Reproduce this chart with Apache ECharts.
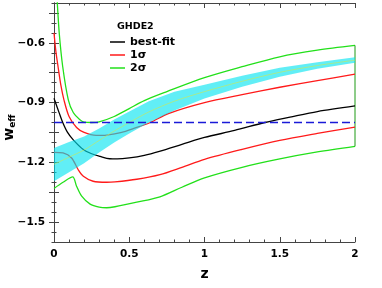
<!DOCTYPE html>
<html>
<head>
<meta charset="utf-8">
<script src="https://cdn.jsdelivr.net/npm/echarts@6/dist/echarts.min.js"></script>
<style>html,body{margin:0;padding:0;background:#fff;}#c{width:382px;height:288px;}</style>
</head>
<body>
<div id="c"></div>
<script>
// ---- data ----
var zG1 = [0, 0.022, 0.035, 0.058, 0.095, 0.128, 0.17, 0.2, 0.25, 0.3, 0.4, 0.5, 0.6, 0.75, 1.0, 1.25, 1.5, 1.75, 2.0];
var wG1 = [-0.1, -0.40, -0.553, -0.72, -0.886, -0.95, -0.985, -0.998, -1.0, -0.997, -0.97, -0.93, -0.89, -0.845, -0.775, -0.72, -0.67, -0.637, -0.613];

var zR1 = [0, 0.012, 0.027, 0.045, 0.066, 0.1, 0.15, 0.2, 0.28, 0.35, 0.45, 0.53, 0.64, 0.76, 1.0, 1.25, 1.5, 1.75, 2.0];
var wR1 = [-0.55, -0.64, -0.72, -0.81, -0.886, -0.97, -1.025, -1.05, -1.065, -1.063, -1.05, -1.03, -1.0, -0.955, -0.9, -0.86, -0.823, -0.79, -0.757];

var zBF = [0, 0.035, 0.058, 0.09, 0.128, 0.195, 0.25, 0.306, 0.37, 0.42, 0.5, 0.6, 0.7, 0.85, 1.0, 1.2, 1.4, 1.568, 1.75, 2.0];
var wBF = [-0.878, -0.953, -1.0, -1.05, -1.087, -1.136, -1.157, -1.17, -1.182, -1.183, -1.178, -1.165, -1.145, -1.11, -1.075, -1.04, -1.0, -0.973, -0.945, -0.917];

var zR2 = [0, 0.06, 0.117, 0.16, 0.195, 0.26, 0.35, 0.405, 0.55, 0.704, 0.85, 1.0, 1.25, 1.5, 1.75, 2.0];
var wR2 = [-1.15, -1.153, -1.178, -1.236, -1.27, -1.295, -1.30, -1.298, -1.285, -1.262, -1.225, -1.185, -1.135, -1.09, -1.055, -1.023];

var zG2 = [0, 0.06, 0.124, 0.15, 0.184, 0.24, 0.3, 0.35, 0.405, 0.55, 0.704, 0.85, 1.0, 1.25, 1.5, 1.75, 2.0];
var wG2 = [-1.331, -1.30, -1.273, -1.32, -1.37, -1.41, -1.425, -1.428, -1.423, -1.40, -1.373, -1.325, -1.278, -1.225, -1.183, -1.148, -1.12];

var zBand = [0, 0.1, 0.2, 0.3, 0.4, 0.5, 0.63, 0.8, 1.0, 1.25, 1.5, 1.75, 2.0];
var wBandUp = [-1.128, -1.098, -1.07, -1.03, -0.985, -0.945, -0.893, -0.845, -0.81, -0.765, -0.725, -0.697, -0.673];
var wBandLo = [-1.295, -1.25, -1.205, -1.15, -1.1, -1.055, -1.0, -0.94, -0.88, -0.82, -0.77, -0.73, -0.70];
var wBandMid = [-1.21, -1.174, -1.138, -1.09, -1.043, -1.0, -0.947, -0.893, -0.845, -0.793, -0.748, -0.714, -0.687];

var zRef = [0, 2];
var wRef = [-1.0, -1.0];

var xTickLabels = [0, 0.5, 1, 1.5, 2];
var yTickLabels = [-1.5, -1.2, -0.9, -0.6];
var yMajorTicks = [-1.5, -1.35, -1.2, -1.05, -0.9, -0.75, -0.6, -0.45];

var legendNames = ['best-fit', '1\u03c3', '2\u03c3'];
var legendTitle = 'GHDE2';

// ---- build ----
function pairs(z, w) { return z.map(function (v, i) { return [v, w[i]]; }); }
var FONT = 'DejaVu Sans';
var AX = '#444';
var GREEN = '#22e01a', RED = '#ff1a1a';

function lineSeries(name, z, w, color, width) {
  return {
    name: name, type: 'line', data: pairs(z, w), symbol: 'none', smooth: 0.3,
    lineStyle: { color: color, width: width }, itemStyle: { color: color },
    clip: true, silent: true, animation: false, z: 3
  };
}

var xCommon = { type: 'value', min: 0, max: 2, splitLine: { show: false } };
var yCommon = { type: 'value', min: -1.6, max: -0.4, splitLine: { show: false } };

var xAxes = [
  Object.assign({}, xCommon, {
    position: 'bottom', interval: 0.5,
    axisLine: { show: true, lineStyle: { color: AX, width: 1 } },
    axisTick: { show: true, inside: true, length: 5, lineStyle: { color: AX } },
    axisLabel: { show: true, margin: 7, color: '#000', fontFamily: FONT, fontWeight: 'bold', fontSize: 10.5,
      customValues: xTickLabels, formatter: function (v) { return String(+v.toFixed(2)); } },
    name: 'z', nameLocation: 'middle', nameGap: 25, nameMoveOverlap: false,
    nameTextStyle: { color: '#000', fontFamily: FONT, fontWeight: 'bold', fontSize: 14 }
  }),
  Object.assign({}, xCommon, {
    position: 'bottom', interval: 0.1,
    axisLine: { show: false }, axisLabel: { show: false },
    axisTick: { show: true, inside: true, length: 2.5, lineStyle: { color: AX } }
  }),
  Object.assign({}, xCommon, {
    position: 'top', interval: 0.5,
    axisLine: { show: true, lineStyle: { color: AX, width: 1 } }, axisLabel: { show: false },
    axisTick: { show: true, inside: true, length: 5, lineStyle: { color: AX } }
  }),
  Object.assign({}, xCommon, {
    position: 'top', interval: 0.1,
    axisLine: { show: false }, axisLabel: { show: false },
    axisTick: { show: true, inside: true, length: 2.5, lineStyle: { color: AX } }
  })
];

var yAxes = [
  Object.assign({}, yCommon, {
    position: 'left',
    axisLine: { show: true, lineStyle: { color: AX, width: 1 } },
    axisTick: { show: true, inside: true, length: 5, customValues: yMajorTicks, lineStyle: { color: AX } },
    axisLabel: { show: true, margin: 9, color: '#000', fontFamily: FONT, fontWeight: 'bold', fontSize: 10.5,
      customValues: yTickLabels, formatter: function (v) { return v.toFixed(1).replace('-', '\u2212'); } },
    name: '{w|w}{s|eff}', nameLocation: 'middle', nameGap: 37, nameRotate: 90, nameMoveOverlap: false,
    nameTextStyle: { color: '#000', padding: [0, 10, 0, 0], rich: {
      w: { fontFamily: FONT, fontWeight: 'bold', fontSize: 14, color: '#000', lineHeight: 16 },
      s: { fontFamily: FONT, fontWeight: 'bold', fontSize: 9, color: '#000', verticalAlign: 'bottom', lineHeight: 10, padding: [6, 0, 0, 0] }
    } }
  }),
  Object.assign({}, yCommon, {
    position: 'left', interval: 0.05,
    axisLine: { show: false }, axisLabel: { show: false },
    axisTick: { show: true, inside: true, length: 2.5, lineStyle: { color: AX } }
  }),
  Object.assign({}, yCommon, {
    position: 'right',
    axisLine: { show: true, lineStyle: { color: AX, width: 1 } }, axisLabel: { show: false },
    axisTick: { show: true, inside: true, length: 5, customValues: yMajorTicks, lineStyle: { color: AX } }
  }),
  Object.assign({}, yCommon, {
    position: 'right', interval: 0.05,
    axisLine: { show: false }, axisLabel: { show: false },
    axisTick: { show: true, inside: true, length: 2.5, lineStyle: { color: AX } }
  })
];

// band drawn as a polygon through the axis scales
function renderBand(params, api) {
  if (params.dataIndex !== 0) return null;
  var pts = [];
  for (var i = 0; i < zBand.length; i++) pts.push(api.coord([zBand[i], wBandUp[i]]));
  for (var j = zBand.length - 1; j >= 0; j--) pts.push(api.coord([zBand[j], wBandLo[j]]));
  return {
    type: 'polygon',
    shape: { points: pts },
    style: { fill: 'rgba(0,228,240,0.62)', stroke: null }
  };
}

var lastG1 = wG1[wG1.length - 1], lastG2 = wG2[wG2.length - 1];
var zEnd = zG1[zG1.length - 1];

var series = [
  lineSeries('2\u03c3', zG1, wG1, GREEN, 1.3),
  lineSeries('2\u03c3', zG2, wG2, GREEN, 1.3),
  {
    name: 'edge', type: 'line', data: [[zEnd, lastG1], [zEnd, lastG2]], symbol: 'none',
    lineStyle: { color: '#1c9a14', width: 1 }, clip: false, silent: true, animation: false, z: 3
  },
  lineSeries('1\u03c3', zR1, wR1, RED, 1.3),
  lineSeries('1\u03c3', zR2, wR2, RED, 1.3),
  lineSeries('best-fit', zBF, wBF, '#000000', 1.3),
  {
    name: 'band', type: 'custom', renderItem: renderBand, data: pairs(zBand, wBandUp),
    encode: { x: 0, y: 1 }, silent: true, animation: false, z: 4, clip: true
  },
  {
    name: 'bandMid', type: 'line', data: pairs(zBand, wBandMid), symbol: 'none', smooth: 0.3,
    lineStyle: { color: '#d4e84a', width: 0.6 }, silent: true, animation: false, z: 5
  },
  {
    name: 'ref', type: 'line', data: pairs(zRef, wRef), symbol: 'none',
    lineStyle: { color: '#1a1ad8', width: 1.5, type: [8, 4] }, silent: true, animation: false, z: 6
  }
];

var chart = echarts.init(document.getElementById('c'), null, { renderer: 'canvas' });
chart.setOption({
  animation: false,
  backgroundColor: '#fff',
  grid: { left: 54, right: 27, top: 3, bottom: 46, containLabel: false, outerBoundsMode: 'none' },
  title: { text: legendTitle, left: 117, top: 22, padding: 0,
    textStyle: { fontFamily: FONT, fontWeight: 'bold', fontSize: 9.5, color: '#000' } },
  legend: {
    data: legendNames, orient: 'vertical', left: 110, top: 36, padding: 0,
    icon: 'rect', itemWidth: 15, itemHeight: 1.5, itemGap: 1, selectedMode: false,
    textStyle: { fontFamily: FONT, fontWeight: 'bold', fontSize: 11, lineHeight: 12, color: '#000' }
  },
  xAxis: xAxes,
  yAxis: yAxes,
  series: series
});
</script>
</body>
</html>
